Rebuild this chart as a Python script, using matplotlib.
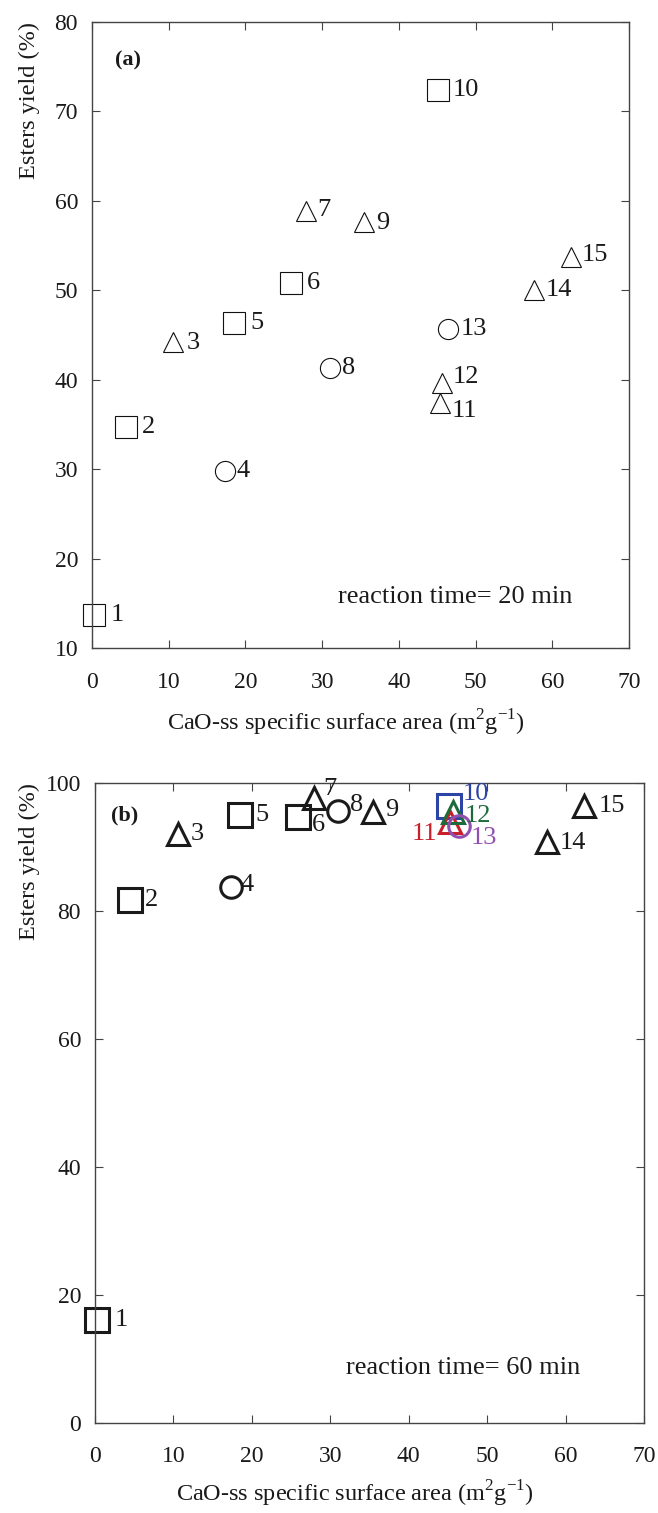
import matplotlib
matplotlib.use("Agg")
from matplotlib import pyplot as plt

plt.rcParams['font.family'] = ['Liberation Serif', 'DejaVu Serif']
plt.rcParams['mathtext.fontset'] = 'custom'
plt.rcParams['mathtext.rm'] = 'Liberation Serif'

# sample number, marker shape
samples = ['1', '2', '3', '4', '5', '6', '7', '8', '9', '10', '11', '12', '13', '14', '15']
shapes = ['s', 's', '^', 'o', 's', 's', '^', 'o', '^', 's', '^', '^', 'o', '^', '^']

# CaO-ss specific surface area (m2/g)
area = [0.3, 4.4, 10.6, 17.3, 18.5, 25.9, 27.9, 31.0, 35.5, 45.1, 45.3, 45.6, 46.4, 57.6, 62.4]

# esters yield (%) after 20 min and 60 min
yield_20 = [13.7, 34.7, 44.2, 29.8, 46.3, 50.8, 58.9, 41.3, 57.6, 72.4, 37.4, 39.6, 45.7, 50.0, 53.7]
yield_60 = [16.0, 81.7, 92.0, 83.7, 95.0, 94.7, 97.6, 95.6, 95.5, 96.4, 93.9, 95.5, 93.2, 90.8, 96.3]

# colours used in panel (b)
colors_b = ['#1a1a1a'] * 15
colors_b[9] = '#2b44a6'
colors_b[10] = '#c8202a'
colors_b[11] = '#1d6b3a'
colors_b[12] = '#9050b0'

# label offsets (pixels, y up)
offs_a = [(16, 0), (16, 0), (13, -1), (12, 0), (16, 0), (16, 0), (11, 1), (12, 0), (12, -1),
          (15, 0), (12, -8), (11, 6), (13, 0), (12, 0), (11, 2)]
offs_b = [(17, 0), (15, 0), (13, 0), (10, 2), (15, 0), (14, -8), (9, 9), (12, 6), (12, 2),
          (14, 12), (-13, -12), (12, -4), (12, -12), (13, -1), (14, 0)]

W, H = 658, 1513
fig = plt.figure(figsize=(W / 100, H / 100), dpi=100)
ax1 = fig.add_axes([92 / W, 1 - 648 / H, 537 / W, 626 / H])
ax2 = fig.add_axes([95 / W, 1 - 1422.7 / H, 549 / W, 640 / H])

msize = {'s': 16, 'o': 14.5, '^': 15}
msize_b = {'s': 17, 'o': 15.5, '^': 16}

for i in range(len(samples)):
    ax1.plot(area[i], yield_20[i], shapes[i], ms=msize[shapes[i]], mfc='none',
             mec='#111111', mew=0.8, clip_on=False)
    ax1.annotate(samples[i], (area[i], yield_20[i]), xytext=offs_a[i],
                 textcoords='offset pixels', ha='left', va='center', fontsize=19,
                 color='#1a1a1a')
    ax2.plot(area[i], yield_60[i], shapes[i], ms=msize_b[shapes[i]], mfc='none',
             mec=colors_b[i], mew=2.2, clip_on=False)
    ha = 'right' if samples[i] == '11' else 'left'
    ax2.annotate(samples[i], (area[i], yield_60[i]), xytext=offs_b[i],
                 textcoords='offset pixels', ha=ha, va='center', fontsize=19,
                 color=colors_b[i])

xlabel = 'CaO-ss specific surface area (m$^{2}$g$^{-1}$)'
for ax, left, lpad in ((ax1, 92, 11), (ax2, 95, 8.5)):
    width = ax.get_position().width * W
    ax.set_xlim(0, 70)
    ax.set_xticks(range(0, 71, 10))
    ax.tick_params(direction='in', length=6, width=0.8, top=True, right=True,
                   labelsize=17, colors='#1a1a1a', color='#444444')
    ax.tick_params(axis='x', pad=17)
    ax.tick_params(axis='y', pad=10)
    for sp in ax.spines.values():
        sp.set_color('#444444')
        sp.set_linewidth(1.0)
    ax.set_xlabel(xlabel, fontsize=17.5, labelpad=lpad, color='#1a1a1a',
                  x=0.5 - 15 / width, ha='center')
    ax.set_ylabel('Esters yield (%)', fontsize=17.5, color='#1a1a1a', loc='top')
    ax.yaxis.set_label_coords((40 - left) / width, 1.0)

ax1.set_ylim(10, 80)
ax1.set_yticks(range(10, 81, 10))
ax2.set_ylim(0, 100)
ax2.set_yticks(range(0, 101, 20))

ax1.text(0.043, 0.939, '(a)', transform=ax1.transAxes, fontsize=16, fontweight='bold',
         va='center', ha='left', color='#1a1a1a')
ax2.text(0.030, 0.9495, '(b)', transform=ax2.transAxes, fontsize=16, fontweight='bold',
         va='center', ha='left', color='#1a1a1a')
ax1.text(0.458, 0.082, 'reaction time= 20 min', transform=ax1.transAxes, fontsize=19,
         va='center', ha='left', color='#1a1a1a')
ax2.text(0.458, 0.0855, 'reaction time= 60 min', transform=ax2.transAxes, fontsize=19,
         va='center', ha='left', color='#1a1a1a')

fig.savefig('out.png', dpi=100)
